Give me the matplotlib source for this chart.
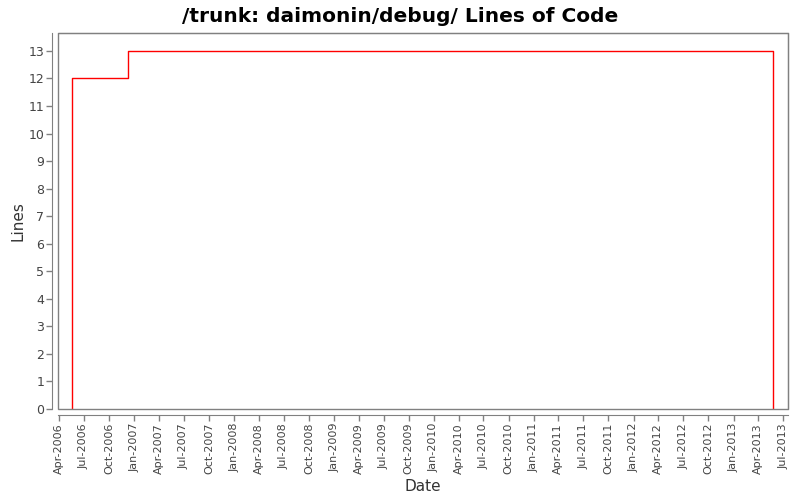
import matplotlib
matplotlib.use("Agg")
import matplotlib.pyplot as plt
import matplotlib.dates as mdates
from matplotlib.patches import Rectangle
import datetime as dt

# data
dates = ["2006-05-18", "2006-05-18", "2006-12-09", "2013-05-26"]
lines = [0, 12, 13, 0]
title = "/trunk: daimonin/debug/ Lines of Code"

d = [dt.datetime.strptime(s, "%Y-%m-%d") for s in dates]

plt.rcParams['font.family'] = ['DejaVu Sans']
fig = plt.figure(figsize=(8, 5), dpi=100)
ax = fig.add_axes([58/800, (500-409)/500, (788-58)/800, (409-33)/500])

ax.plot(d, lines, drawstyle='steps-post', color='#ff0000', lw=1.0)

ax.set_xlim(dt.datetime(2006, 3, 28), dt.datetime(2013, 7, 19))
ax.set_ylim(0, 13.65)
ax.set_yticks(range(0, 14))

ax.xaxis.set_major_locator(mdates.MonthLocator(bymonth=[1, 4, 7, 10]))
ax.xaxis.set_major_formatter(mdates.DateFormatter('%b-%Y'))

gray = '#808080'
for s in ['top', 'right', 'left', 'bottom']:
    ax.spines[s].set_color(gray)
ax.spines['left'].set_position(('outward', 4))
ax.spines['bottom'].set_position(('outward', 4))
ax.add_patch(Rectangle((0, 0), 1, 1, transform=ax.transAxes, fill=False,
                       edgecolor=gray, lw=1.0, clip_on=False, zorder=5))

ax.tick_params(axis='both', colors=gray, labelcolor='#444444', length=4, width=1)
ax.tick_params(axis='x', labelsize=8, pad=2, labelrotation=90)
ax.tick_params(axis='y', labelsize=9, pad=2)

ax.set_xlabel('Date', fontsize=11, color='#333333', labelpad=3)
ax.set_ylabel('Lines', fontsize=11, color='#333333', labelpad=2)
fig.suptitle(title, fontsize=14.5, fontweight='bold', y=0.985)

fig.savefig('out.png', dpi=100)
